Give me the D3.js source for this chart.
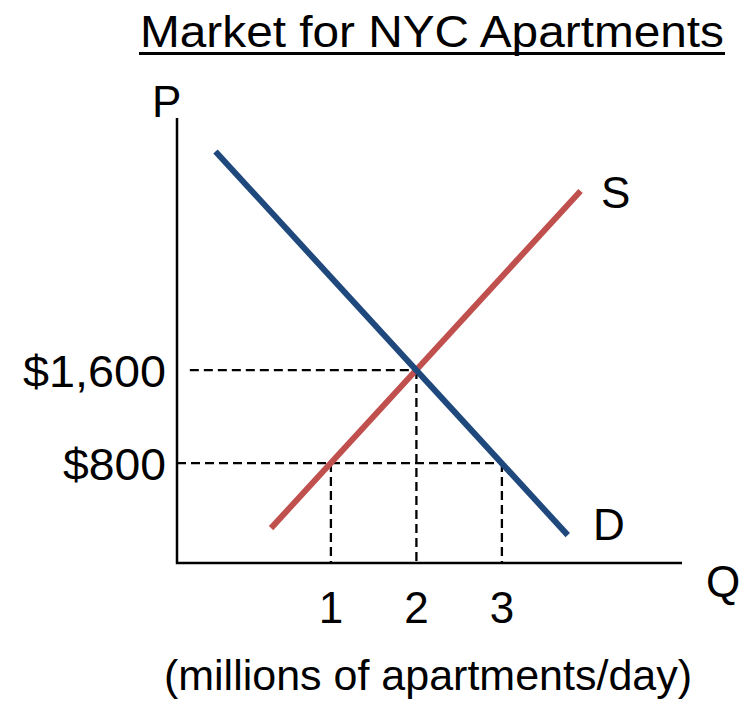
<!DOCTYPE html>
<html>
<head>
<meta charset="utf-8">
<script src="https://cdn.jsdelivr.net/npm/d3@7"></script>
<style>
  body { margin: 0; background: #fff; }
  text { font-family: "Liberation Sans", Arial, sans-serif; fill: #000; }
</style>
</head>
<body>
<div id="chart"></div>
<script>
// data
var qTicks = [1, 2, 3];
var pTicks = [1600, 800];
var pTickLabels = ["$1,600", "$800"];
var demandQ = [-0.35, 3.77];
var demandP = [3480, 180];
var supplyQ = [0.3, 3.92];
var supplyP = [240, 3140];
// dashed guides: price level, start q, end q
var guideP = [1600, 800];
var guideFromQ = [-0.65, -0.8];
var guideToQ = [2, 3];
var dropQ = [1, 2, 3];
var dropP = [800, 1600, 800];

var W = 750, H = 702;
var svg = d3.select("#chart").append("svg").attr("width", W).attr("height", H);

var x = d3.scaleLinear().domain([-0.8, 5.2]).range([177, 690]);
var y = d3.scaleLinear().domain([-60, 3768]).range([563, 118]);

// title (a bit wider than the plain font)
svg.append("text")
    .attr("x", 140).attr("y", 47)
    .attr("textLength", 584).attr("lengthAdjust", "spacingAndGlyphs")
    .style("font-size", "44px")
    .text("Market for NYC Apartments");
svg.append("line")
    .attr("x1", 139).attr("x2", 725).attr("y1", 53.5).attr("y2", 53.5)
    .attr("stroke", "#000").attr("stroke-width", 3);

// guides
guideP.forEach(function(p, i) {
  svg.append("line")
      .attr("x1", x(guideFromQ[i])).attr("x2", x(guideToQ[i]))
      .attr("y1", y(p)).attr("y2", y(p))
      .attr("stroke", "#000").attr("stroke-width", 2.3)
      .attr("stroke-dasharray", "9,5");
});
dropQ.forEach(function(q, i) {
  svg.append("line")
      .attr("x1", x(q)).attr("x2", x(q))
      .attr("y1", y(dropP[i])).attr("y2", y(-60))
      .attr("stroke", "#000").attr("stroke-width", 2.3)
      .attr("stroke-dasharray", "9,5");
});

// axes
svg.append("path")
    .attr("d", "M" + x(-0.8) + "," + y(3768) + "V" + y(-60) + "H682")
    .attr("fill", "none").attr("stroke", "#000").attr("stroke-width", 2.5);

// curves
var line = d3.line().x(function(d) { return x(d[0]); }).y(function(d) { return y(d[1]); });
svg.append("path")
    .datum(d3.zip(supplyQ, supplyP))
    .attr("d", line)
    .attr("stroke", "#c0504d").attr("stroke-width", 6).attr("fill", "none");
svg.append("path")
    .datum(d3.zip(demandQ, demandP))
    .attr("d", line)
    .attr("stroke", "#1f497d").attr("stroke-width", 6).attr("fill", "none");

// tick labels
svg.selectAll(".qt").data(qTicks).enter().append("text")
    .attr("x", function(d) { return x(d); }).attr("y", 623)
    .attr("text-anchor", "middle").style("font-size", "44px")
    .text(function(d) { return d; });
var pWidths = [143, 103];
svg.selectAll(".pt").data(pTicks).enter().append("text")
    .attr("x", function(d, i) { return 166 - pWidths[i]; })
    .attr("y", function(d) { return y(d) + 17; })
    .attr("textLength", function(d, i) { return pWidths[i]; })
    .attr("lengthAdjust", "spacingAndGlyphs")
    .style("font-size", "45px")
    .text(function(d, i) { return pTickLabels[i]; });

// axis letters and curve labels
svg.append("text").attr("x", 152).attr("y", 117).style("font-size", "44px").text("P");
svg.append("text").attr("x", 706).attr("y", 597).style("font-size", "44px").text("Q");
svg.append("text").attr("x", 601).attr("y", 208).style("font-size", "44px").text("S");
svg.append("text").attr("x", 593).attr("y", 540).style("font-size", "44px").text("D");

svg.append("text")
    .attr("x", 428).attr("y", 690)
    .attr("text-anchor", "middle")
    .style("font-size", "43px")
    .text("(millions of apartments/day)");
</script>
</body>
</html>
